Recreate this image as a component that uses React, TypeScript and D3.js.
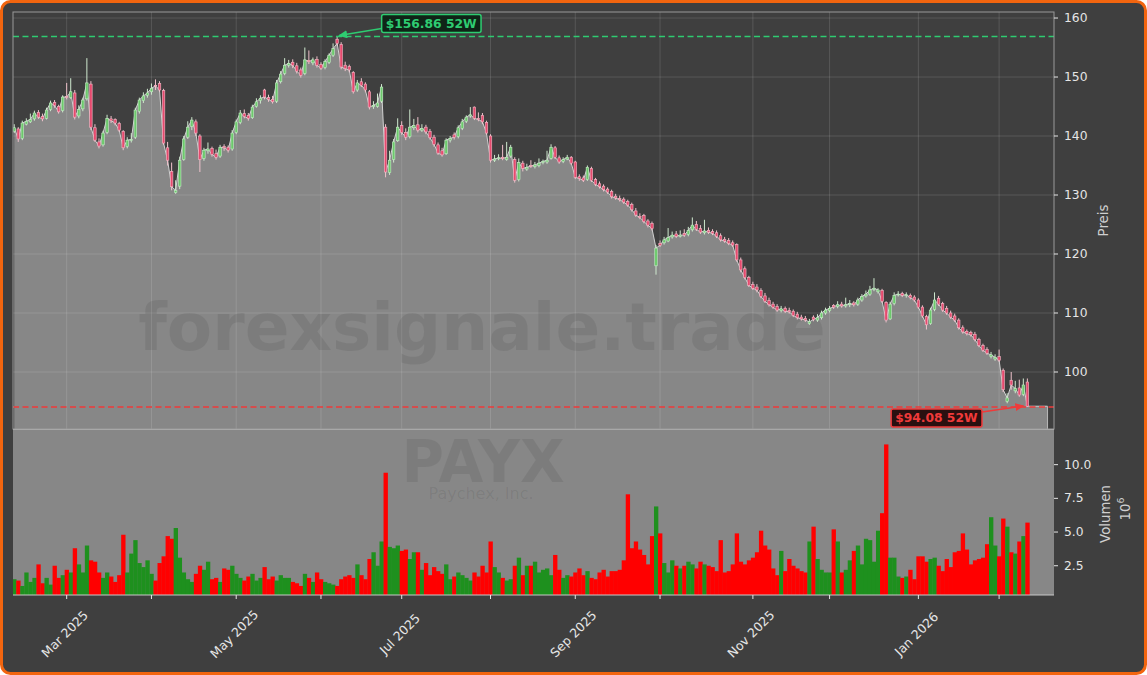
import React, { useEffect, useRef } from 'react';
import * as d3 from 'd3';

const W = 1147;
const H = 675;

// trading calendar (NYSE), first session and closed days
const startDate = '2025-02-11';
const holidays = ['2025-02-17', '2025-04-18', '2025-05-26', '2025-06-19', '2025-07-04', '2025-09-01', '2025-11-27', '2025-12-25', '2026-01-01', '2026-01-19'];

// daily OHLC (USD)
const opens = [
  140.8, 141.2, 139.6, 142.0, 142.4, 142.9, 144.0, 143.3, 143.0, 144.5, 145.7, 145.0, 144.3,
  146.7, 146.5, 147.3, 143.4, 144.6, 146.3, 148.8, 141.4, 139.0, 138.5, 140.6, 142.9, 142.8, 142.1, 140.8, 138.2, 139.4, 139.8, 144.2, 146.0, 146.9,
  147.5, 148.6, 148.9, 147.7, 138.0, 134.0, 130.4, 131.5, 136.0, 139.8, 141.6, 142.4, 140.0, 136.2, 137.5, 137.9, 137.0, 136.6, 138.2, 138.1, 137.8,
  140.6, 142.3, 143.8, 143.5, 143.1, 145.0, 146.0, 147.8, 146.5, 146.2, 145.9, 149.2, 150.6, 152.0, 152.5, 151.9, 151.2, 150.6, 152.8, 152.4, 153.0,
  152.1, 151.6, 152.5, 153.7, 156.4, 155.5, 152.0, 151.8, 150.8, 147.8, 149.2, 148.8, 147.5, 145.0, 145.0, 145.9, 141.5, 133.8, 136.0, 139.2,
  141.8, 140.6, 139.9, 141.4, 141.9, 141.0, 141.5, 140.8, 139.8, 138.5, 137.5, 137.0, 139.3, 140.2, 139.9, 141.3, 142.5, 143.4, 144.9, 143.0, 143.5, 142.3,
  140.0, 135.9, 136.2, 136.4, 136.0, 136.6, 136.0, 132.6, 135.4, 134.4, 135.0, 134.8, 135.0, 135.5, 135.6, 136.2, 138.0, 136.3, 135.7, 136.1, 136.4,
  135.6, 133.1, 132.9, 132.6, 134.5, 132.6, 131.9, 131.5, 131.0, 130.6, 129.8, 129.4, 129.3, 128.9, 128.4, 127.3, 126.4, 126.5, 125.6, 125.2, 118.0,
  121.8, 121.9, 122.2, 122.9, 123.4, 123.0, 123.5, 123.3, 124.1, 125.0, 124.3, 123.6, 124.0, 123.8, 123.6, 123.1, 122.5, 122.3, 121.9, 121.6, 119.0, 117.5, 116.0,
  114.8, 114.4, 113.8, 112.9, 112.1, 111.5, 111.1, 110.4, 110.8, 110.4, 110.3, 109.8, 109.3, 109.1, 108.2, 109.3, 108.8, 109.2, 110.0,
  110.4, 111.3, 111.1, 111.5, 111.2, 111.4, 111.7, 111.5, 112.2, 112.9, 113.2, 114.0, 113.6, 113.8, 111.8, 109.0, 111.6, 113.1, 113.3, 113.0, 113.0, 112.7,
  112.2, 111.0, 109.4, 108.2, 110.6, 112.5, 111.6, 110.8, 110.0, 109.5, 108.8, 107.5, 106.9, 106.7, 106.4, 105.5, 104.5, 103.8, 102.6, 102.2,
  102.6, 100.3, 95.0, 98.6, 96.8, 97.3, 96.2, 98.3,
];
const highs = [
  142.0, 141.5, 142.6, 143.0, 143.8, 144.3, 144.4, 143.8, 144.8, 146.0, 146.1, 145.3, 146.9,
  149.0, 149.8, 147.8, 145.2, 146.5, 153.2, 149.3, 142.0, 139.6, 140.9, 143.6, 143.4, 143.0, 142.4, 141.0, 139.8, 140.5, 144.8, 146.5, 147.4, 148.0,
  148.9, 149.6, 149.3, 148.0, 139.0, 135.5, 132.5, 136.5, 140.0, 142.5, 143.2, 142.8, 140.3, 138.0, 138.9, 138.2, 137.7, 138.5, 138.6, 138.4, 141.0,
  142.8, 144.4, 144.5, 143.9, 145.3, 146.4, 146.9, 148.0, 147.0, 146.8, 149.5, 151.0, 153.2, 152.9, 153.0, 152.4, 151.6, 155.0, 154.5, 153.3, 153.5,
  152.5, 153.0, 154.0, 155.7, 156.86, 155.9, 152.6, 152.1, 151.0, 149.5, 149.8, 149.1, 147.8, 145.9, 147.2, 148.8, 142.0, 137.5, 139.5, 143.0,
  142.5, 141.3, 144.5, 142.9, 143.2, 142.0, 141.9, 141.2, 140.2, 138.9, 138.0, 139.6, 140.0, 140.6, 141.8, 142.9, 143.5, 144.9, 145.0, 144.0, 143.9, 142.6,
  140.3, 136.8, 136.9, 138.5, 139.0, 138.5, 136.4, 136.2, 135.8, 135.3, 135.9, 135.6, 136.2, 136.0, 137.5, 138.6, 138.3, 136.7, 136.4, 136.8, 136.6,
  135.8, 133.5, 133.3, 135.0, 134.8, 132.9, 132.3, 131.8, 131.3, 130.9, 130.2, 129.9, 129.6, 129.2, 128.7, 127.8, 126.9, 126.8, 125.9, 125.5, 121.5,
  122.3, 122.9, 124.4, 123.8, 123.9, 124.0, 124.2, 124.6, 126.2, 125.6, 124.9, 125.8, 124.5, 124.2, 124.0, 123.5, 122.9, 122.7, 122.3, 121.8, 119.4, 117.9, 116.3,
  115.3, 114.9, 114.2, 113.4, 112.6, 111.9, 111.5, 111.2, 111.1, 110.9, 110.6, 110.2, 109.7, 109.5, 109.0, 109.6, 109.8, 110.4, 110.9,
  111.2, 111.5, 112.0, 111.9, 112.6, 112.2, 112.0, 112.6, 113.2, 113.8, 114.6, 115.9, 114.2, 114.1, 112.0, 111.9, 113.5, 113.7, 113.6, 113.5, 113.3, 113.0,
  112.5, 111.3, 109.7, 110.9, 113.5, 112.9, 111.9, 111.2, 110.4, 109.9, 109.1, 107.9, 107.2, 107.0, 106.8, 105.8, 104.8, 104.2, 103.4, 103.0,
  103.8, 100.6, 96.4, 100.0, 98.5, 98.7, 98.9, 98.9,
];
const lows = [
  140.5, 139.0, 139.3, 141.8, 142.2, 142.6, 142.9, 142.5, 142.8, 144.2, 144.8, 143.8, 144.0,
  146.2, 146.3, 142.8, 143.0, 144.2, 146.0, 141.0, 139.0, 137.9, 138.2, 140.3, 142.2, 141.8, 140.7, 137.6, 137.9, 138.9, 139.5, 143.8, 145.6, 146.5,
  147.0, 147.8, 147.5, 138.5, 135.0, 130.8, 130.2, 131.0, 135.8, 139.5, 141.0, 140.0, 133.9, 135.8, 137.0, 136.5, 136.0, 136.3, 137.5, 137.2, 137.5,
  140.3, 142.0, 143.0, 142.6, 142.9, 144.8, 145.5, 146.2, 145.8, 145.5, 145.6, 148.9, 150.3, 151.6, 151.5, 150.6, 149.9, 150.3, 152.2, 152.0, 151.6,
  151.2, 151.3, 152.2, 153.4, 155.3, 151.3, 151.0, 150.8, 147.2, 147.5, 148.3, 147.4, 144.5, 144.6, 144.8, 145.6, 133.0, 133.4, 135.5, 139.0,
  140.2, 139.3, 139.6, 141.0, 140.6, 140.7, 140.3, 139.4, 138.2, 136.8, 136.5, 136.8, 138.9, 139.4, 139.6, 141.0, 142.2, 143.1, 142.7, 142.5, 142.0, 140.2,
  135.5, 135.6, 135.9, 135.9, 135.8, 136.3, 132.1, 132.3, 134.0, 134.1, 134.6, 134.5, 134.7, 135.2, 135.3, 136.0, 136.1, 135.3, 135.4, 135.9, 135.1,
  132.7, 132.4, 132.2, 132.4, 132.2, 131.5, 131.1, 130.6, 130.2, 129.4, 129.2, 128.9, 128.5, 128.0, 127.2, 126.3, 125.9, 125.2, 124.5, 124.0, 116.5,
  121.2, 121.6, 122.0, 122.6, 122.7, 122.8, 122.9, 123.0, 123.8, 123.9, 123.4, 123.3, 123.4, 123.2, 122.7, 122.1, 121.9, 121.5, 121.2, 118.7, 116.9, 115.7, 114.4,
  113.9, 113.5, 112.5, 111.7, 111.1, 110.7, 110.2, 110.1, 110.0, 109.9, 109.3, 108.9, 108.7, 108.5, 108.0, 108.6, 108.5, 108.9, 109.7,
  110.1, 110.7, 110.8, 110.9, 110.9, 111.0, 111.1, 111.2, 111.9, 112.6, 112.9, 113.7, 113.3, 111.7, 108.4, 108.8, 111.3, 112.8, 112.7, 112.6, 112.3, 111.9,
  110.7, 109.2, 107.2, 108.0, 110.3, 111.2, 110.2, 109.7, 109.0, 108.5, 107.2, 106.5, 106.2, 106.0, 105.2, 104.2, 103.4, 102.9, 102.3, 101.9,
  101.7, 96.6, 94.7, 97.0, 96.4, 95.8, 95.9, 94.08,
];
const closes = [
  141.4, 139.5, 142.2, 142.5, 142.8, 143.9, 143.2, 142.9, 144.4, 145.6, 145.2, 144.1, 146.6,
  146.6, 147.5, 143.2, 144.5, 146.1, 149.0, 141.5, 139.3, 138.3, 140.5, 143.0, 142.6, 142.2, 141.0, 138.0, 139.3, 139.4, 144.4, 146.1, 146.8, 147.3,
  148.1, 148.5, 147.8, 138.8, 135.9, 131.4, 130.8, 135.9, 139.5, 141.5, 142.7, 140.5, 136.0, 137.6, 137.8, 136.9, 136.4, 138.1, 138.0, 137.6, 140.5,
  142.4, 143.9, 143.3, 143.0, 144.9, 145.8, 146.4, 146.6, 146.2, 145.8, 149.0, 150.5, 152.0, 152.3, 152.0, 151.0, 150.3, 152.9, 152.6, 152.9, 152.0,
  151.5, 152.6, 153.7, 154.8, 155.7, 151.7, 151.4, 151.2, 147.5, 149.0, 148.6, 147.8, 144.9, 145.2, 145.6, 148.3, 133.9, 135.9, 139.0, 141.5,
  140.6, 139.8, 141.5, 141.8, 141.0, 141.3, 140.7, 139.7, 138.6, 137.1, 136.8, 139.3, 139.6, 139.8, 141.4, 142.4, 143.2, 143.6, 143.0, 142.8, 142.4, 140.5,
  135.9, 136.1, 136.3, 136.2, 136.4, 138.1, 132.5, 135.5, 134.5, 134.7, 134.9, 135.1, 135.4, 135.7, 135.9, 138.1, 136.4, 135.6, 136.0, 136.4, 135.4,
  133.0, 132.8, 132.5, 134.7, 132.5, 131.8, 131.4, 130.9, 130.5, 129.7, 129.5, 129.2, 128.8, 128.3, 127.5, 126.6, 126.2, 125.5, 124.9, 124.3, 121.0,
  121.5, 122.4, 122.8, 123.2, 123.0, 123.2, 123.2, 124.0, 124.9, 124.2, 123.7, 123.9, 123.7, 123.5, 123.0, 122.4, 122.2, 121.8, 121.5, 119.0, 117.3, 116.0, 114.7,
  114.2, 113.9, 112.8, 112.0, 111.4, 111.0, 110.5, 110.7, 110.3, 110.2, 109.6, 109.2, 109.0, 108.8, 108.5, 108.9, 109.2, 110.0, 110.5,
  110.8, 111.0, 111.4, 111.2, 111.4, 111.6, 111.4, 112.2, 112.8, 113.2, 113.9, 114.2, 113.9, 112.0, 108.8, 111.5, 113.0, 113.2, 113.0, 113.1, 112.6, 112.2,
  111.0, 109.5, 108.0, 110.5, 112.2, 111.5, 110.5, 110.0, 109.3, 108.8, 107.5, 106.8, 106.5, 106.3, 105.5, 104.5, 103.7, 103.2, 102.9, 102.5,
  102.0, 97.0, 95.6, 97.8, 97.2, 96.1, 97.8, 94.2,
];
// daily volume in millions of shares
const volumes = [
  1.5, 1.4, 1.0, 2.0, 1.3, 1.6, 2.6, 1.2, 1.6, 1.1,
  2.5, 1.6, 1.8, 2.2, 2.0, 3.8, 2.6, 2.0, 4.0, 2.9,
  2.8, 2.0, 1.6, 2.0, 1.7, 1.3, 1.8, 4.8, 2.0, 3.4,
  4.4, 2.7, 2.4, 2.9, 1.9, 1.4, 2.7, 3.2, 4.7, 4.5,
  5.3, 3.1, 2.0, 1.5, 1.3, 1.9, 2.5, 2.2, 2.8, 1.5,
  1.6, 1.3, 2.3, 2.2, 2.5, 1.9, 1.6, 1.4, 1.7, 1.9,
  1.4, 1.6, 2.4, 1.5, 1.7, 1.4, 1.8, 1.6, 1.6, 1.3,
  1.2, 1.0, 1.9, 1.6, 1.3, 2.0, 1.5, 1.3, 1.2, 1.1,
  1.0, 1.5, 1.7, 1.8, 1.6, 2.6, 1.8, 1.5, 3.0, 3.5,
  2.5, 4.3, 9.4, 3.9, 3.8, 4.0, 3.6, 3.7, 3.0, 3.5,
  3.5, 2.2, 2.7, 1.8, 2.4, 2.1, 1.9, 2.6, 1.5, 1.7,
  2.0, 1.8, 1.6, 1.4, 2.0, 1.7, 2.5, 2.0, 4.3, 2.4,
  2.0, 1.6, 1.4, 1.5, 2.5, 3.1, 1.8, 2.5, 2.5, 2.8,
  2.0, 2.2, 2.3, 1.8, 3.3, 2.2, 1.6, 1.8, 1.7, 2.0,
  2.3, 1.8, 2.1, 1.6, 1.5, 2.0, 2.2, 1.7, 2.1, 2.1,
  2.2, 2.9, 7.8, 3.8, 4.3, 3.7, 3.3, 2.6, 4.7, 6.9,
  4.9, 2.7, 2.0, 2.9, 2.5, 2.3, 2.5, 2.8, 2.6, 2.3,
  2.8, 2.6, 2.5, 2.4, 2.1, 4.4, 2.0, 2.1, 2.6, 4.9,
  2.8, 2.6, 2.9, 3.1, 3.5, 5.1, 4.0, 3.7, 2.3, 1.8,
  3.6, 2.1, 3.0, 2.5, 2.3, 2.1, 2.0, 4.3, 5.4, 3.0,
  2.2, 2.0, 2.0, 5.2, 4.3, 2.0, 2.2, 2.9, 3.6, 4.0,
  2.6, 4.5, 4.4, 2.8, 5.1, 6.4, 11.5, 3.1, 3.1, 1.7,
  1.6, 1.7, 2.2, 1.5, 3.2, 3.2, 2.8, 3.0, 3.1, 2.5,
  2.1, 3.0, 2.4, 3.5, 3.6, 4.9, 3.7, 2.6, 2.9, 3.0,
  3.1, 4.1, 6.1, 4.0, 3.2, 6.0, 5.4, 3.5, 3.4, 4.3, 4.7, 5.7,
];

const priceTicks = [100, 110, 120, 130, 140, 150, 160];
const volumeTicks = [2.5, 5.0, 7.5, 10.0];
const high52 = 156.86;
const low52 = 94.08;

const FONT = "'DejaVu Sans', sans-serif";
const BG = '#3f3f3f';
const PANEL = '#878787';

const buildDates = (n: number) => {
  const parse = d3.utcParse('%Y-%m-%d');
  const fmt = d3.utcFormat('%Y-%m-%d');
  const out: Date[] = [];
  let d = parse(startDate) as Date;
  while (out.length < n) {
    const wd = d.getUTCDay();
    if (wd !== 0 && wd !== 6 && !holidays.includes(fmt(d))) out.push(d);
    d = d3.utcDay.offset(d, 1);
  }
  return out;
};

const App: React.FC = () => {
  const svgRef = useRef<SVGSVGElement>(null);

  useEffect(() => {
    if (!svgRef.current) return;
    const svg = d3.select(svgRef.current);
    svg.selectAll('*').remove();

    const n = closes.length;
    const dates = buildDates(n);

    // panel geometry
    const left = 13, right = 1054;
    const pTop = 12, pBot = 429;
    const vTop = 430, vBot = 595;

    const x = d3.scaleLinear().domain([-0.3, 257.6]).range([left, right]);
    const y = d3.scaleLinear().domain([90.34, 161.02]).range([pBot, pTop]);
    const yv = d3.scaleLinear().domain([0.33, 12.57]).range([vBot, vTop]);
    const step = x(1) - x(0);

    // figure frame
    svg.append('rect')
      .attr('x', 1.5).attr('y', 1.5).attr('width', W - 3).attr('height', H - 3)
      .attr('rx', 9).attr('fill', BG).attr('stroke', '#f2650f').attr('stroke-width', 3);

    const defs = svg.append('defs');
    defs.append('clipPath').attr('id', 'clipP').append('rect')
      .attr('x', left).attr('y', pTop).attr('width', right - left).attr('height', pBot - pTop);
    defs.append('clipPath').attr('id', 'clipV').append('rect')
      .attr('x', left).attr('y', vTop).attr('width', right - left).attr('height', vBot - vTop);
    const mk = (id: string, color: string) => defs.append('marker')
      .attr('id', id).attr('markerUnits', 'userSpaceOnUse')
      .attr('markerWidth', 9).attr('markerHeight', 8).attr('refX', 8).attr('refY', 4)
      .attr('orient', 'auto')
      .append('path').attr('d', 'M0,0 L9,4 L0,8 z').attr('fill', color);
    mk('arrG', '#2ecc71');
    mk('arrR', '#f03a3a');

    // month ticks = first session of each month
    const monthIdx: number[] = [];
    dates.forEach((d, i) => {
      if (i > 0 && d.getUTCMonth() !== dates[i - 1].getUTCMonth()) monthIdx.push(i);
    });

    // ---------------- price panel ----------------
    const gp = svg.append('g').attr('clip-path', 'url(#clipP)');

    const ext = closes.map((c, i) => ({ i, c }));
    ext.push({ i: n - 1 + 5, c: closes[n - 1] });

    gp.append('path')
      .datum(ext)
      .attr('fill', PANEL)
      .attr('d', d3.area<any>().x(d => x(d.i)).y0(pBot).y1(d => y(d.c)));

    // grid on top of the fill
    gp.selectAll('line.hg').data(priceTicks).enter().append('line')
      .attr('x1', left).attr('x2', right)
      .attr('y1', d => y(d)).attr('y2', d => y(d))
      .attr('stroke', '#ffffff').attr('stroke-opacity', 0.16).attr('stroke-width', 0.8);
    gp.selectAll('line.vg').data(monthIdx).enter().append('line')
      .attr('x1', d => x(d)).attr('x2', d => x(d))
      .attr('y1', pTop).attr('y2', pBot)
      .attr('stroke', '#ffffff').attr('stroke-opacity', 0.16).attr('stroke-width', 0.8);

    // watermark
    gp.append('text')
      .attr('x', 482).attr('y', 350).attr('text-anchor', 'middle')
      .style('font-family', FONT).style('font-weight', 'bold').style('font-size', '66px')
      .attr('fill', '#000').attr('fill-opacity', 0.08)
      .text('forexsignale.trade');

    gp.append('path')
      .datum(ext)
      .attr('fill', 'none').attr('stroke', '#d2d2d2').attr('stroke-width', 1)
      .attr('d', d3.line<any>().x(d => x(d.i)).y(d => y(d.c)));
    gp.append('line')
      .attr('x1', x(n - 1 + 5)).attr('x2', x(n - 1 + 5))
      .attr('y1', y(closes[n - 1])).attr('y2', pBot)
      .attr('stroke', '#b8b8b8').attr('stroke-width', 1);

    // candles
    const bw = step * 0.62;
    const candles = gp.append('g');
    closes.forEach((c, i) => {
      const o = opens[i];
      const up = c >= o;
      candles.append('line')
        .attr('x1', x(i)).attr('x2', x(i))
        .attr('y1', y(highs[i])).attr('y2', y(lows[i]))
        .attr('stroke', up ? '#cfe9cf' : '#f0c2cc').attr('stroke-width', 1);
      const top = y(Math.max(o, c));
      const h = Math.max(0.8, y(Math.min(o, c)) - top);
      candles.append('rect')
        .attr('x', x(i) - bw / 2).attr('y', top).attr('width', bw).attr('height', h)
        .attr('fill', up ? '#6cc96c' : '#e64a6e')
        .attr('stroke', up ? '#c6ebc6' : '#f5b8c6').attr('stroke-width', 0.6);
    });

    // 52W levels
    gp.append('line')
      .attr('x1', left).attr('x2', right).attr('y1', y(high52)).attr('y2', y(high52))
      .attr('stroke', '#2ecc71').attr('stroke-width', 1.6).attr('stroke-dasharray', '6,3.5');
    gp.append('line')
      .attr('x1', left).attr('x2', right).attr('y1', y(low52)).attr('y2', y(low52))
      .attr('stroke', '#f03a3a').attr('stroke-width', 1.6).attr('stroke-dasharray', '6,3.5');

    // panel frame
    svg.append('rect')
      .attr('x', left).attr('y', pTop).attr('width', right - left).attr('height', pBot - pTop)
      .attr('fill', 'none').attr('stroke', '#9a9a9a').attr('stroke-width', 1);

    // 52W annotations
    const hiIdx = d3.maxIndex(highs);
    const loIdx = d3.minIndex(lows);
    const badge = (cx: number, cy: number, label: string, color: string, fill: string) => {
      const g = svg.append('g');
      const t = g.append('text')
        .attr('x', cx).attr('y', cy).attr('text-anchor', 'middle').attr('dominant-baseline', 'central')
        .style('font-family', FONT).style('font-weight', 'bold').style('font-size', '12.3px')
        .attr('fill', color).text(label);
      const bb = (t.node() as SVGTextElement).getBBox();
      g.insert('rect', 'text')
        .attr('x', bb.x - 4).attr('y', cy - 9).attr('width', bb.width + 8).attr('height', 18)
        .attr('rx', 2).attr('fill', fill).attr('stroke', color).attr('stroke-width', 1.5);
      return bb;
    };
    const hb = badge(x(hiIdx) + 94, y(high52) - 13, `$${high52.toFixed(2)} 52W`, '#2ecc71', '#0f2417');
    svg.append('line')
      .attr('x1', hb.x - 4).attr('y1', y(high52) - 8)
      .attr('x2', x(hiIdx) + 2).attr('y2', y(high52) - 1)
      .attr('stroke', '#2ecc71').attr('stroke-width', 1.6).attr('marker-end', 'url(#arrG)');
    const lb = badge(x(loIdx) - 91, y(low52) + 11, `$${low52.toFixed(2)} 52W`, '#f03a3a', '#2a1010');
    svg.append('line')
      .attr('x1', lb.x + lb.width + 4).attr('y1', y(low52) + 5)
      .attr('x2', x(loIdx) - 4).attr('y2', y(low52) - 1)
      .attr('stroke', '#f03a3a').attr('stroke-width', 1.6).attr('marker-end', 'url(#arrR)');

    // price axis
    const axisText = '#e6e6e6';
    priceTicks.forEach(t => {
      svg.append('line').attr('x1', right).attr('x2', right + 4).attr('y1', y(t)).attr('y2', y(t))
        .attr('stroke', axisText).attr('stroke-width', 1);
      svg.append('text').attr('x', right + 10).attr('y', y(t)).attr('dominant-baseline', 'central')
        .style('font-family', FONT).style('font-size', '12.3px').attr('fill', axisText).text(t);
    });
    svg.append('text')
      .attr('transform', `translate(1103,${(pTop + pBot) / 2}) rotate(-90)`)
      .attr('text-anchor', 'middle').attr('dominant-baseline', 'central')
      .style('font-family', FONT).style('font-size', '13.3px').attr('fill', '#cfcfcf').text('Preis');

    // ---------------- volume panel ----------------
    svg.append('rect')
      .attr('x', left).attr('y', vTop).attr('width', right - left).attr('height', vBot - vTop)
      .attr('fill', PANEL);
    const gv = svg.append('g').attr('clip-path', 'url(#clipV)');
    gv.append('text')
      .attr('x', 483).attr('y', 482).attr('text-anchor', 'middle')
      .style('font-family', FONT).style('font-weight', 'bold').style('font-size', '58px')
      .attr('fill', '#000').attr('fill-opacity', 0.08).text('PAYX');
    gv.append('text')
      .attr('x', 481).attr('y', 499).attr('text-anchor', 'middle')
      .style('font-family', FONT).style('font-size', '16px')
      .attr('fill', '#000').attr('fill-opacity', 0.08).text('Paychex, Inc.');

    gv.selectAll('rect.vol').data(volumes).enter().append('rect')
      .attr('x', (d, i) => x(i - 0.5)).attr('width', step + 0.3)
      .attr('y', d => yv(d)).attr('height', d => vBot - yv(d))
      .attr('fill', (d, i) => (closes[i] >= opens[i] ? '#1e901e' : '#ff0000'));

    svg.append('line').attr('x1', left).attr('x2', right).attr('y1', vBot).attr('y2', vBot)
      .attr('stroke', '#c8c8c8').attr('stroke-width', 1);
    svg.append('line').attr('x1', left).attr('x2', right).attr('y1', pBot + 0.5).attr('y2', pBot + 0.5)
      .attr('stroke', '#a8a8a8').attr('stroke-width', 1);

    volumeTicks.forEach(t => {
      svg.append('line').attr('x1', right).attr('x2', right + 4).attr('y1', yv(t)).attr('y2', yv(t))
        .attr('stroke', axisText).attr('stroke-width', 1);
      svg.append('text').attr('x', right + 10).attr('y', yv(t)).attr('dominant-baseline', 'central')
        .style('font-family', FONT).style('font-size', '12.3px').attr('fill', axisText).text(t.toFixed(1));
    });
    svg.append('text')
      .attr('transform', `translate(1105,514) rotate(-90)`)
      .attr('text-anchor', 'middle').attr('dominant-baseline', 'central')
      .style('font-family', FONT).style('font-size', '13.3px').attr('fill', '#cfcfcf').text('Volumen');
    const exp = svg.append('text')
      .attr('transform', `translate(1125,509) rotate(-90)`)
      .attr('text-anchor', 'middle').attr('dominant-baseline', 'central')
      .style('font-family', FONT).style('font-size', '13.3px').attr('fill', '#cfcfcf');
    exp.append('tspan').text('10');
    exp.append('tspan').attr('dy', -5).style('font-size', '9.5px').text('6');

    // x axis: tick per month, label every other month
    const fmtM = d3.utcFormat('%b %Y');
    monthIdx.forEach(i => {
      svg.append('line').attr('x1', x(i)).attr('x2', x(i)).attr('y1', vBot).attr('y2', vBot + 4)
        .attr('stroke', axisText).attr('stroke-width', 1);
      if (dates[i].getUTCMonth() % 2 === 0) {
        svg.append('text')
          .attr('transform', `translate(${x(i) - 2},634) rotate(-45)`)
          .attr('text-anchor', 'middle').attr('dominant-baseline', 'central')
          .style('font-family', FONT).style('font-size', '12.5px').attr('fill', axisText)
          .text(fmtM(dates[i]));
      }
    });
  }, []);

  return (
    <div style={{ position: 'fixed', left: 0, top: 0, width: W, height: H, background: '#ffffff' }}>
      <svg ref={svgRef} width={W} height={H} style={{ display: 'block' }} />
    </div>
  );
};

export default App;
